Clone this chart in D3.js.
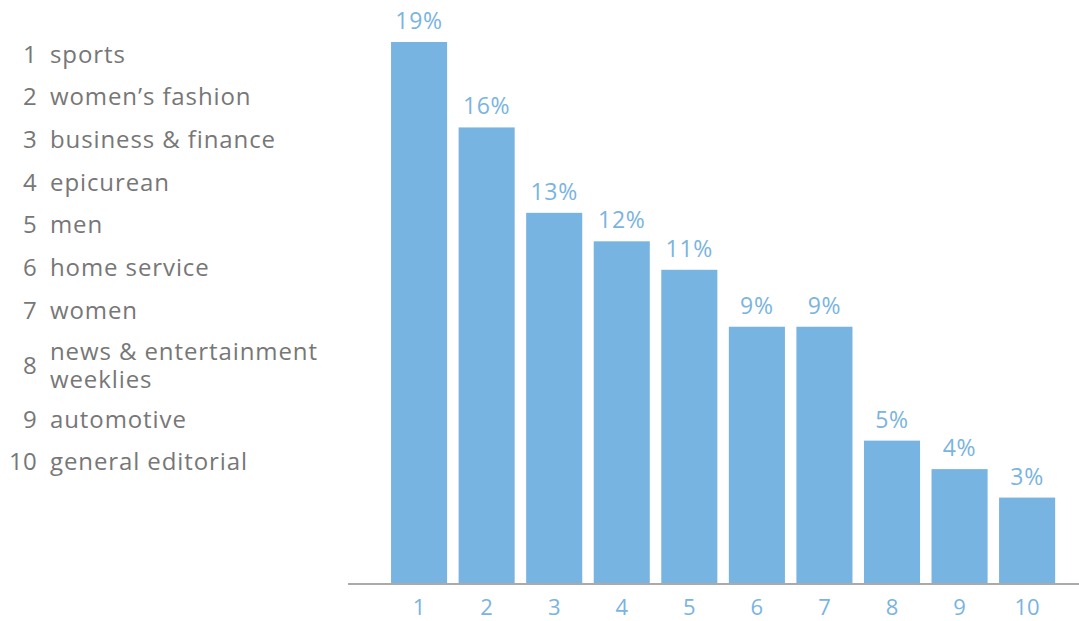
<!DOCTYPE html>
<html>
<head>
<meta charset="utf-8">
<script src="https://cdn.jsdelivr.net/npm/d3@7"></script>
<style>
  html, body { margin: 0; padding: 0; background: #fff; }
  svg { display: block; }
  text { font-family: "Open Sans", Lato, sans-serif; }
</style>
</head>
<body>
<svg id="chart" width="1079" height="621"></svg>
<script>
// Magazine categories ranked by share
const ranks = ["1", "2", "3", "4", "5", "6", "7", "8", "9", "10"];
const categories = [
  ["sports"],
  ["women\u2019s fashion"],
  ["business & finance"],
  ["epicurean"],
  ["men"],
  ["home service"],
  ["women"],
  ["news & entertainment", "weeklies"],
  ["automotive"],
  ["general editorial"]
];
const shares = [19, 16, 13, 12, 11, 9, 9, 5, 4, 3];

const svg = d3.select("#chart");
const barColor = "#78b4e2";
const labelColor = "#7ab4e0";
const legendColor = "#777777";
const font = "'Open Sans', Lato, sans-serif";

const baseY = 583;
const x = d3.scaleBand()
  .domain(ranks)
  .range([385.3, 1060.9])
  .paddingInner(0.17)
  .paddingOuter(0.085);
const y = d3.scaleLinear().domain([0, 19]).range([baseY, 42]);

// bars
svg.append("g").selectAll("rect")
  .data(shares)
  .join("rect")
  .attr("x", (d, i) => x(ranks[i]))
  .attr("y", d => y(d))
  .attr("width", x.bandwidth())
  .attr("height", d => baseY - y(d))
  .attr("fill", barColor);

// value labels
svg.append("g").selectAll("text")
  .data(shares)
  .join("text")
  .attr("x", (d, i) => x(ranks[i]) + x.bandwidth() / 2)
  .attr("y", d => y(d) - 13)
  .attr("text-anchor", "middle")
  .attr("font-size", 23)
  .attr("letter-spacing", 0.7)
  .attr("fill", labelColor)
  .text(d => d + "%");

// baseline axis
const axis = svg.append("g")
  .attr("transform", `translate(0,${baseY + 1})`)
  .call(d3.axisBottom(x).tickSize(0).tickPadding(15));
axis.select(".domain").remove();
axis.append("line")
  .attr("x1", 348).attr("x2", 1079)
  .attr("y1", 0).attr("y2", 0)
  .attr("stroke", "#aaaaaa").attr("stroke-width", 2);
axis.selectAll(".tick text")
  .attr("font-size", 22)
  .attr("font-family", font)
  .attr("fill", labelColor);

// ranked category legend
const legendTops = [55, 97, 140, 183, 225, 268, 311, 352, 420, 462];
const legend = svg.append("g")
  .attr("font-size", 24)
  .attr("letter-spacing", 0.9)
  .attr("fill", legendColor);
categories.forEach((lines, i) => {
  const top = legendTops[i];
  const midY = top + (lines.length - 1) * 14;
  legend.append("text")
    .attr("x", 37).attr("y", midY)
    .attr("dy", "0.35em")
    .attr("letter-spacing", 0.3)
    .attr("text-anchor", "end")
    .text(ranks[i]);
  const label = legend.append("text")
    .attr("x", 50).attr("y", top)
    .attr("dy", "0.35em");
  lines.forEach((line, j) => {
    label.append("tspan")
      .attr("x", 50)
      .attr("dy", j === 0 ? "0.35em" : "28px")
      .text(line);
  });
  label.attr("dy", null);
});
</script>
</body>
</html>
